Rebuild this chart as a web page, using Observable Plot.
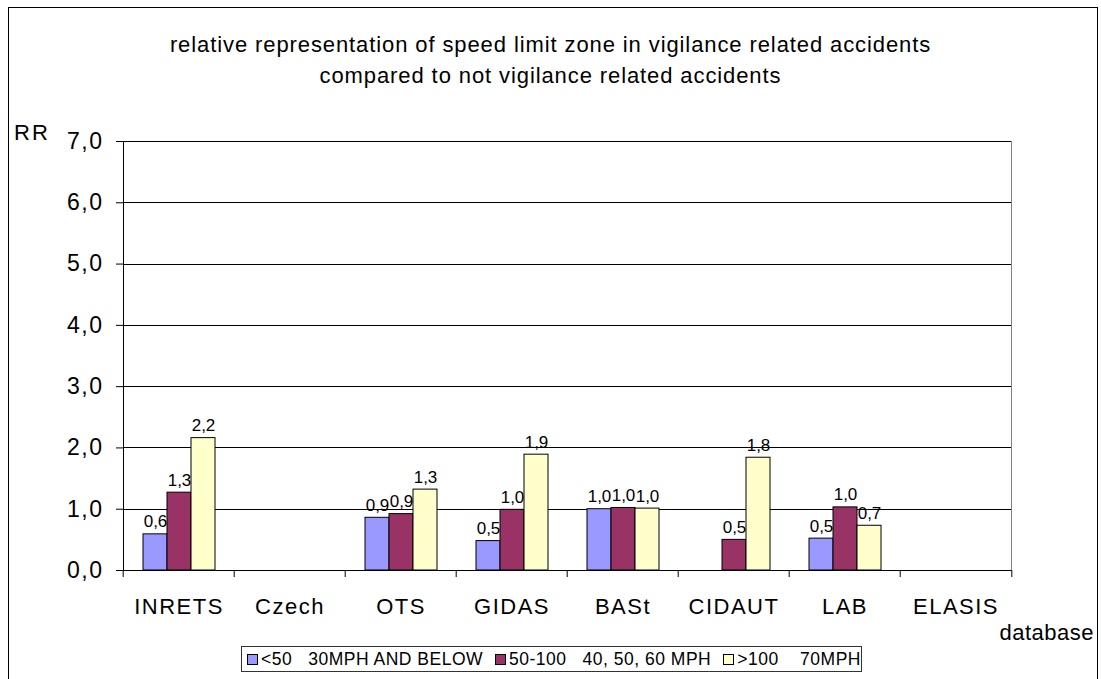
<!DOCTYPE html>
<html>
<head>
<meta charset="utf-8">
<script src="https://cdn.jsdelivr.net/npm/d3@7"></script>
<script src="https://cdn.jsdelivr.net/npm/@observablehq/plot@0.6"></script>
<style>
  body { margin: 0; background: #fff; }
  #wrap { position: relative; width: 1101px; height: 679px; overflow: hidden; background: #fff;
          font-family: Arial, "Liberation Sans", sans-serif; color: #000; }
  #border { position: absolute; left: 8px; top: 7px; width: 1090px; height: 720px;
            border: 1px solid #000; box-sizing: border-box; pointer-events: none; }
  #chart { position: absolute; left: 0; top: 0; }
  #title { position: absolute; left: 0; top: 29px; width: 1101px; text-align: center;
           font-size: 22px; letter-spacing: 0.9px; line-height: 31px; }
  #rr { position: absolute; left: 14px; top: 120px; font-size: 22px; letter-spacing: 2px; line-height: 26px; }
  #dbl { position: absolute; right: 7px; top: 620px; font-size: 22px; letter-spacing: 0.5px; line-height: 26px; }
  #legend { position: absolute; left: 241px; top: 646px; width: 621px; height: 26px; box-sizing: border-box;
            border: 1px solid #333; display: flex; align-items: center; padding-left: 5px;
            font-size: 17.5px; letter-spacing: 0.5px; white-space: pre; }
  .sw { display: inline-block; width: 9px; height: 9px; border: 1px solid #000; margin-right: 3px; }
  .it { display: flex; align-items: center; margin-right: 12px; }
  g[aria-label="y-axis tick label"] text { letter-spacing: 1.5px; }
  g[aria-label="fx-axis tick label"] text { letter-spacing: 1.5px; }
  g[aria-label="value labels"] text { letter-spacing: 1px; }
</style>
</head>
<body>
<div id="wrap">
  <div id="chart"></div>
  <div id="title">relative representation of speed limit zone in vigilance related accidents<br>compared to not vigilance related accidents</div>
  <div id="rr">RR</div>
  <div id="dbl">database</div>
  <div id="legend"></div>
  <div id="border"></div>
</div>
<script>
// ---- data ----
const categories = ["INRETS", "Czech", "OTS", "GIDAS", "BASt", "CIDAUT", "LAB", "ELASIS"];
const seriesKeys = ["<50", "50-100", ">100"];
const seriesLabels = ["<50   30MPH AND BELOW", "50-100   40, 50, 60 MPH", ">100    70MPH"];
const seriesColors = ["#9999FF", "#993366", "#FFFFCC"];
const valuesBelow50 = [0.59, null, 0.86, 0.48, 1.00, null, 0.52, null];
const values50to100 = [1.27, null, 0.92, 0.99, 1.02, 0.50, 1.03, null];
const valuesAbove100 = [2.16, null, 1.32, 1.89, 1.01, 1.84, 0.73, null];
const yTicks = [0, 1, 2, 3, 4, 5, 6, 7];

const seriesValues = [valuesBelow50, values50to100, valuesAbove100];
const table = [];
categories.forEach((c, i) => {
  seriesKeys.forEach((s, j) => {
    const v = seriesValues[j][i];
    if (v != null) table.push({db: c, series: s, value: v});
  });
});
// gridlines in every category panel (so empty categories keep their panel)
const grid = categories.flatMap(c => yTicks.map(t => ({db: c, tick: t})));

const W = 1101, H = 679;
const mL = 120, mR = 88, mT = 141, mB = 109;
const step = (W - mL - mR) / categories.length;
const fmt = v => v.toFixed(1).replace(".", ",");

const chart = Plot.plot({
  width: W, height: H,
  marginLeft: mL, marginRight: mR, marginTop: mT, marginBottom: mB,
  style: {background: "none", fontFamily: "Arial, 'Liberation Sans', sans-serif", overflow: "visible"},
  fx: {domain: categories, padding: 0, label: null},
  x: {domain: seriesKeys, paddingInner: 0, paddingOuter: 0.75, axis: null},
  y: {domain: [0, 7], label: null},
  color: {domain: seriesKeys, range: seriesColors},
  marks: [
    Plot.ruleY(grid, {fx: "db", y: "tick", stroke: "#000", strokeWidth: 1, shapeRendering: "crispEdges"}),
    Plot.frame({anchor: "left", fx: () => categories[0], stroke: "#000", shapeRendering: "crispEdges"}),
    Plot.frame({anchor: "right", fx: () => categories[categories.length - 1], stroke: "#808080", shapeRendering: "crispEdges"}),
    Plot.barY(table, {fx: "db", x: "series", y: "value", fill: "series", stroke: "#000", strokeWidth: 1}),
    Plot.text(table, {fx: "db", x: "series", y: "value", text: d => fmt(d.value), ariaLabel: "value labels",
                      lineAnchor: "bottom", dy: -7, fontSize: 17, fill: "#000"}),
    Plot.axisY({ticks: yTicks, tickSize: 7, tickPadding: 13, tickFormat: fmt, fontSize: 23, stroke: "#000"}),
    Plot.axisFx({anchor: "bottom", tickSize: 0, tickPadding: 28, fontSize: 22}),
    Plot.axisFx({anchor: "bottom", tickSize: 7, text: null, dx: -step / 2}),
    Plot.axisFx({anchor: "bottom", ticks: [categories[categories.length - 1]], tickSize: 7, text: null, dx: step / 2})
  ]
});
document.getElementById("chart").appendChild(chart);

const legend = document.getElementById("legend");
seriesLabels.forEach((lab, i) => {
  const it = document.createElement("span");
  it.className = "it";
  const sw = document.createElement("span");
  sw.className = "sw";
  sw.style.background = seriesColors[i];
  const t = document.createElement("span");
  t.textContent = lab;
  it.appendChild(sw); it.appendChild(t);
  legend.appendChild(it);
});
</script>
</body>
</html>
